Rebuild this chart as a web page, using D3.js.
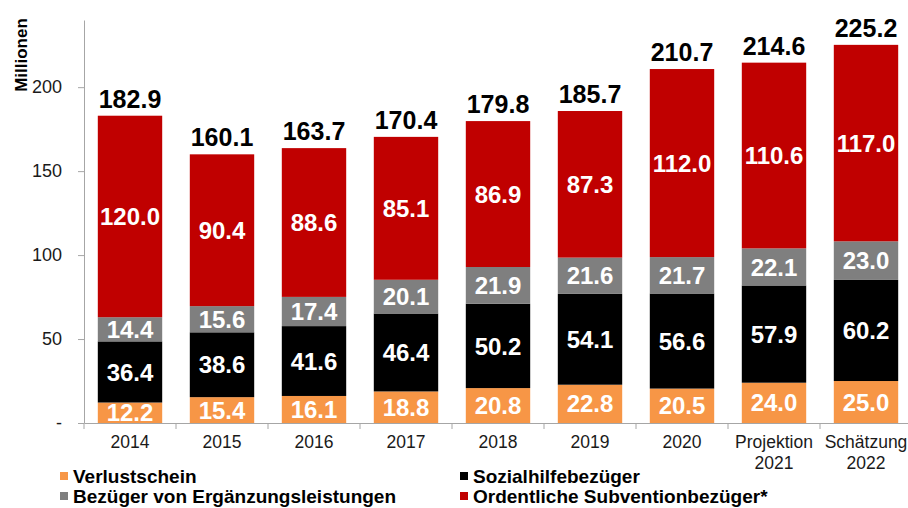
<!DOCTYPE html>
<html>
<head>
<meta charset="utf-8">
<script src="https://cdn.jsdelivr.net/npm/d3@7"></script>
<style>
  body { margin: 0; background: #fff; }
  svg { font-family: "Liberation Sans", Arial, sans-serif; display: block; }
</style>
</head>
<body>
<div id="vizArea"></div>
<script>
// data
var categories = ["2014", "2015", "2016", "2017", "2018", "2019", "2020", "Projektion\n2021", "Schätzung\n2022"];
var verlustschein = [12.2, 15.4, 16.1, 18.8, 20.8, 22.8, 20.5, 24.0, 25.0];
var sozialhilfe = [36.4, 38.6, 41.6, 46.4, 50.2, 54.1, 56.6, 57.9, 60.2];
var ergaenzung = [14.4, 15.6, 17.4, 20.1, 21.9, 21.6, 21.7, 22.1, 23.0];
var ordentliche = [120.0, 90.4, 88.6, 85.1, 86.9, 87.3, 112.0, 110.6, 117.0];
var totals = [182.9, 160.1, 163.7, 170.4, 179.8, 185.7, 210.7, 214.6, 225.2];
var yTicks = [0, 50, 100, 150, 200];

var series = [
  { name: "Verlustschein", values: verlustschein, color: "#F79646" },
  { name: "Sozialhilfebezüger", values: sozialhilfe, color: "#000000" },
  { name: "Bezüger von Ergänzungsleistungen", values: ergaenzung, color: "#7F7F7F" },
  { name: "Ordentliche Subventionbezüger*", values: ordentliche, color: "#C00000" }
];

var W = 908, H = 508;
var canvas = d3.select("#vizArea")
  .append("svg")
    .attr("width", W)
    .attr("height", H);

var x = d3.scaleBand()
  .domain(categories)
  .range([84, 912])
  .paddingInner(0.3)
  .paddingOuter(0.15);

var y = d3.scaleLinear()
  .domain([0, 240])
  .range([423, 20]);

// stack the series
var rows = categories.map(function (c, i) {
  var r = { cat: c };
  series.forEach(function (s) { r[s.name] = s.values[i]; });
  return r;
});
var stacked = d3.stack().keys(series.map(function (s) { return s.name; }))(rows);

// bars
var layers = canvas.selectAll("g.layer")
  .data(stacked)
  .enter().append("g")
    .attr("class", "layer")
    .attr("fill", function (d, i) { return series[i].color; });

layers.selectAll("rect")
  .data(function (d) { return d; })
  .enter().append("rect")
    .attr("x", function (d) { return x(d.data.cat); })
    .attr("y", function (d) { return y(d[1]); })
    .attr("width", x.bandwidth())
    .attr("height", function (d) { return y(d[0]) - y(d[1]); });

// segment labels
layers.selectAll("text")
  .data(function (d) { return d.map(function (p) { return { p: p, v: p[1] - p[0] }; }); })
  .enter().append("text")
    .attr("x", function (d) { return x(d.p.data.cat) + x.bandwidth() / 2; })
    .attr("y", function (d) { return (y(d.p[0]) + y(d.p[1])) / 2; })
    .attr("dy", "0.36em")
    .attr("text-anchor", "middle")
    .attr("fill", "#fff")
    .attr("font-weight", "bold")
    .attr("font-size", 24)
    .text(function (d) { return d.v.toFixed(1); });

// totals on top
canvas.selectAll("text.total")
  .data(categories)
  .enter().append("text")
    .attr("class", "total")
    .attr("x", function (d) { return x(d) + x.bandwidth() / 2; })
    .attr("y", function (d, i) { return y(d3.sum(series, function (s) { return s.values[i]; })) - 8; })
    .attr("text-anchor", "middle")
    .attr("font-weight", "bold")
    .attr("font-size", 25)
    .attr("fill", "#000")
    .text(function (d, i) { return totals[i].toFixed(1); });

// y axis
var yAxis = canvas.append("g")
  .attr("transform", "translate(84,0)")
  .call(d3.axisLeft(y).tickValues(yTicks).tickSize(6).tickSizeOuter(0).tickPadding(16)
    .tickFormat(function (d) { return d === 0 ? "-" : d; }));
yAxis.selectAll("path, line").attr("stroke", "#A6A6A6");
yAxis.selectAll("text").attr("font-size", 18).attr("fill", "#1a1a1a")
  .attr("font-family", "Liberation Sans, Arial, sans-serif");

// x axis
var xAxis = canvas.append("g")
  .attr("transform", "translate(0,423)")
  .call(d3.axisBottom(x).tickSize(0).tickSizeOuter(0).tickPadding(13));
xAxis.select("path").attr("stroke", "#A6A6A6");
xAxis.selectAll("text")
  .attr("font-size", 17.5).attr("fill", "#1a1a1a")
  .attr("font-family", "Liberation Sans, Arial, sans-serif")
  .each(function (d) {
    var t = d3.select(this), parts = d.split("\n");
    t.text(null);
    parts.forEach(function (p, k) {
      t.append("tspan").attr("x", 0).attr("dy", k === 0 ? null : "1.15em").text(p);
    });
  });

// category boundary ticks
var halfGap = x.step() * x.paddingInner() / 2;
canvas.append("g").selectAll("line")
  .data(categories.concat(["end"]))
  .enter().append("line")
    .attr("x1", function (d, i) { return i < categories.length ? x(d) - halfGap : x(categories[i - 1]) + x.bandwidth() + halfGap; })
    .attr("x2", function (d, i) { return i < categories.length ? x(d) - halfGap : x(categories[i - 1]) + x.bandwidth() + halfGap; })
    .attr("y1", 423)
    .attr("y2", 429)
    .attr("stroke", "#A6A6A6");

// axis title
canvas.append("text")
  .attr("transform", "translate(27,55) rotate(-90)")
  .attr("text-anchor", "middle")
  .attr("font-weight", "bold")
  .attr("font-size", 17)
  .text("Millionen");

// legend
var legendPos = [[60, 472], [460, 472], [60, 492], [460, 492]];
var legend = canvas.selectAll("g.legend")
  .data(series)
  .enter().append("g")
    .attr("class", "legend")
    .attr("transform", function (d, i) { return "translate(" + legendPos[i][0] + "," + legendPos[i][1] + ")"; });
legend.append("rect")
  .attr("width", 8).attr("height", 8)
  .attr("fill", function (d) { return d.color; });
legend.append("text")
  .attr("x", 13).attr("y", 11)
  .attr("font-weight", "bold")
  .attr("font-size", 19)
  .text(function (d) { return d.name; });
</script>
</body>
</html>
